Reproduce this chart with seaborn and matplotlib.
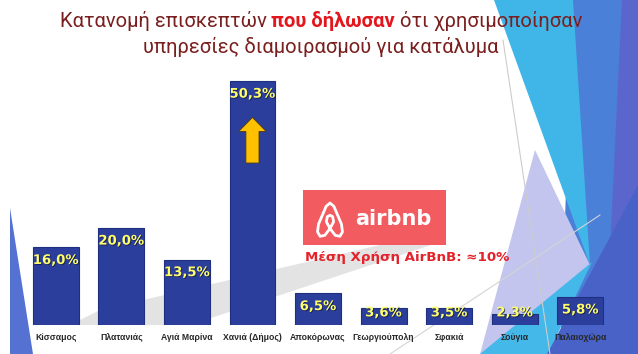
"""bar chart of accommodation sharing use per area (airbnb slide)"""
import matplotlib as mpl
mpl.use('Agg')
import matplotlib.pyplot as plt
from matplotlib.patches import Polygon, Rectangle
import matplotlib.patheffects as pe
import numpy as np
import pandas as pd
import seaborn as sns

# data
areas = ['Κίσσαμος', 'Πλατανιάς', 'Αγιά Μαρίνα', 'Χανιά (Δήμος)', 'Αποκόρωνας',
         'Γεωργιούπολη', 'Σφακιά', 'Σούγια', 'Παλαιοχώρα']
shares = [16.0, 20.0, 13.5, 50.3, 6.5, 3.6, 3.5, 2.3, 5.8]
labels = ['16,0%', '20,0%', '13,5%', '50,3%', '6,5%', '3,6%', '3,5%', '2,3%', '5,8%']

title_parts = [('Κατανομή επισκεπτών ', 'normal', '#7a1f1f'),
               ('που δήλωσαν', 'bold', '#e3161d'),
               (' ότι χρησιμοποίησαν', 'normal', '#7a1f1f')]
title_line2 = 'υπηρεσίες διαμοιρασμού για κατάλυμα'
avg_note = 'Μέση Χρήση AirBnB: ≈10%'

sns.set_theme(style='white')
plt.rcParams['font.family'] = ['DejaVu Sans']
title_font = ['Roboto', 'DejaVu Sans']

W, H = 638, 354
fig = plt.figure(figsize=(W / 100, H / 100), dpi=100)

# background axes in pixel coordinates for the slide decoration
bg = fig.add_axes([0, 0, 1, 1], zorder=0)
bg.set_xlim(0, W)
bg.set_ylim(H, 0)
bg.axis('off')

shapes = [
    ([(573, 0), (638, 0), (638, 354), (560, 354)], '#4b80d8'),
    ([(622, 0), (638, 0), (638, 354), (605, 354)], '#5a66cb'),
    ([(494, 0), (573, 0), (590, 265)], '#3fb5e8'),
    ([(535, 150), (590, 265), (565, 310), (480, 354)], '#c3c5ee'),
    ([(480, 354), (592, 262), (548, 354)], '#45b8ea'),
    ([(547, 354), (638, 185), (638, 354)], '#4862c7'),
    ([(10, 208), (10, 354), (33, 354)], '#5572d3'),
    ([(70, 325), (190, 325), (440, 242), (436, 232), (100, 310)], '#e3e3e3'),
]
for pts, col in shapes:
    bg.add_patch(Polygon(pts, closed=True, fc=col, ec='none'))
bg.plot([503, 550], [40, 354], color='#cccccc', lw=0.8)
bg.plot([390, 600], [354, 215], color='#d4d4d4', lw=0.8)

# title, first line in three colours
r = fig.canvas.get_renderer()
pieces = []
for txt, wt, col in title_parts:
    t = bg.text(0, 21, txt, fontsize=14.5, fontweight=wt, color=col,
                family=title_font, va='center', ha='left')
    pieces.append(t)
widths = [t.get_window_extent(r).width for t in pieces]
x = 321 - sum(widths) / 2
for t, w in zip(pieces, widths):
    t.set_x(x)
    x += w
bg.text(321, 47, title_line2, fontsize=14.5, color='#7a1f1f',
        family=title_font, ha='center', va='center')

# airbnb box
bg.add_patch(Rectangle((303, 190), 143, 55, fc='#f25c61', ec='none'))
bg.text(393, 219, 'airbnb', fontsize=15, fontweight='bold', color='white',
        ha='center', va='center')
logo = np.array([(0.5, 0.25), (0.3, 0.05), (0.12, 0.02), (0.02, 0.15), (0.06, 0.38),
                 (0.35, 0.9), (0.5, 1.0), (0.65, 0.9), (0.94, 0.38), (0.98, 0.15),
                 (0.88, 0.02), (0.7, 0.05), (0.5, 0.25), (0.36, 0.45), (0.4, 0.6),
                 (0.5, 0.64), (0.6, 0.6), (0.64, 0.45), (0.5, 0.25)])
bg.plot(317 + logo[:, 0] * 26, 237 - logo[:, 1] * 34, color='white', lw=2,
        solid_joinstyle='round', solid_capstyle='round')
bg.text(305, 258, avg_note, fontsize=9.6, fontweight='bold', color='#e3222a',
        ha='left', va='center')

# bars
ax = fig.add_axes([23 / W, 29 / H, 590 / W, 291 / H], zorder=1)
ax.patch.set_alpha(0)
df = pd.DataFrame({'area': areas, 'share': shares})
sns.barplot(data=df, x='area', y='share', color='#2b3e9b', saturation=1,
            width=0.7, edgecolor='#1f2f7f', linewidth=0.8, ax=ax)
ax.set_ylim(0, 60)
ax.set_xlim(-0.5, len(areas) - 0.5)
for i, (v, lab) in enumerate(zip(shares, labels)):
    ax.text(i, max(v - 2.7, 2.5), lab, ha='center', va='center', fontsize=9.5,
            fontweight='bold', color='#ffff6e',
            path_effects=[pe.withSimplePatchShadow(offset=(0.6, -0.6), shadow_rgbFace='#101840', alpha=0.8)])
ax.arrow(3, 33.4, 0, 9.4, width=0.2, head_width=0.42, head_length=2.9,
         length_includes_head=True, fc='#ffc000', ec='#4a3c10', lw=0.6)
ax.set_xlabel('')
ax.set_ylabel('')
ax.set_yticks([])
ax.tick_params(axis='x', length=0, pad=10.5, labelsize=6.2)
for lbl in ax.get_xticklabels():
    lbl.set_fontweight('bold')
    lbl.set_family(['Liberation Sans', 'DejaVu Sans'])
    lbl.set_verticalalignment('baseline')
sns.despine(ax=ax, left=True, bottom=True)

fig.savefig('out.png', dpi=100)
